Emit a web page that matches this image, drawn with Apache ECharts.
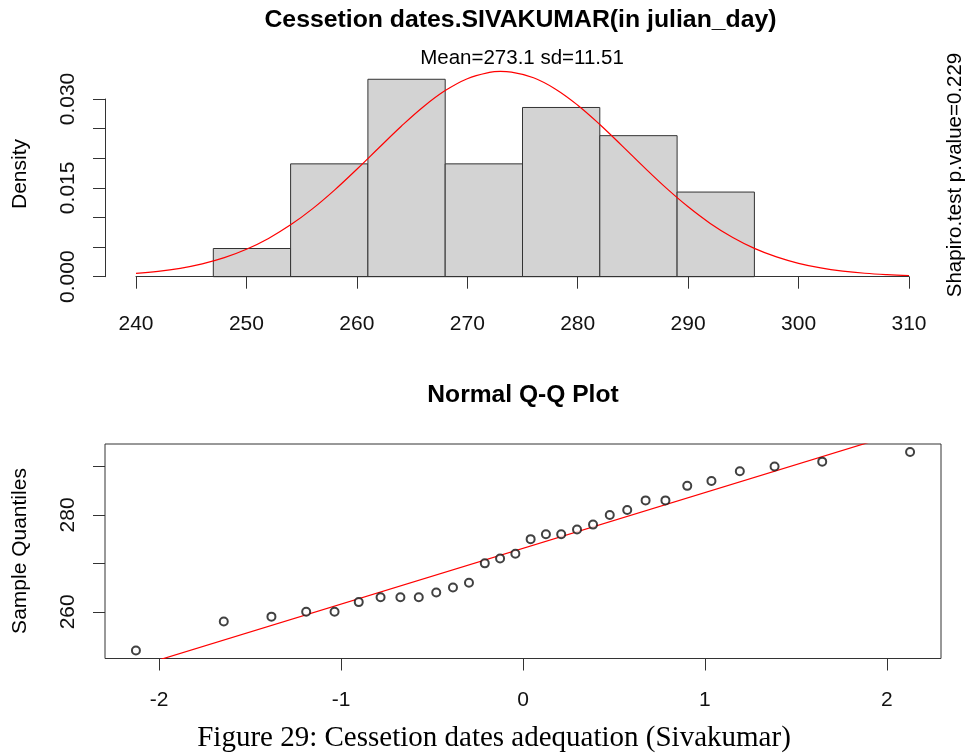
<!DOCTYPE html>
<html>
<head>
<meta charset="utf-8">
<script src="https://cdn.jsdelivr.net/npm/echarts@6/dist/echarts.min.js"></script>
<style>
html,body{margin:0;padding:0;background:#fff;}
#chart{width:966px;height:754px;}
</style>
</head>
<body>
<div id="chart"></div>
<script>
// ---- Histogram data ----
const histBinStart = [247, 254, 261, 268, 275, 282, 289];
const histBinEnd   = [254, 261, 268, 275, 282, 289, 296];
const histDensity  = [0.00476, 0.01905, 0.03333, 0.01905, 0.02857, 0.02381, 0.01429];

// ---- Fitted normal curve (Mean=273.1, sd=11.51) ----
const curveX = [240,242,244,246,248,250,252,254,256,258,260,262,264,266,268,270,272,273,274,276,278,280,282,284,286,288,290,292,294,296,298,300,302,304,306,308,310];
const curveY = [0.00056,0.00090,0.00142,0.00217,0.00321,0.00463,0.00646,0.00875,0.01149,0.01466,0.01814,0.02177,0.02536,0.02866,0.03142,0.03343,0.03450,0.03466,0.03455,0.03358,0.03166,0.02896,0.02570,0.02213,0.01849,0.01499,0.01180,0.00900,0.00667,0.00479,0.00334,0.00226,0.00148,0.00094,0.00058,0.00035,0.00020];

// ---- Q-Q plot data ----
const qqTheoretical = [-2.128,-1.645,-1.383,-1.192,-1.036,-0.903,-0.783,-0.674,-0.573,-0.477,-0.385,-0.297,-0.210,-0.126,-0.042,0.042,0.126,0.210,0.297,0.385,0.477,0.573,0.674,0.783,0.903,1.036,1.192,1.383,1.645,2.128];
const qqSample = [252,258,259,260,260,262,263,263,263,264,265,266,270,271,272,275,276,276,277,278,280,281,283,283,286,287,289,290,291,293];
const qqLineX = [-2.298, 2.298];
const qqLineY = [246.65, 299.55];

// ---- Tick labels ----
const histYLabels = ['0.000', '0.015', '0.030'];
const qqYLabels = ['260', '280'];

// ---- Texts ----
const mainTitle = 'Cessetion dates.SIVAKUMAR(in julian_day)';
const subTitle = 'Mean=273.1 sd=11.51';
const rightText = 'Shapiro.test p.value=0.229';
const histYName = 'Density';
const qqTitle = 'Normal Q-Q Plot';
const qqYName = 'Sample Quantiles';
const caption = 'Figure 29: Cessetion dates adequation (Sivakumar)';

const FONT = "'Liberation Sans', Arial, sans-serif";
const AX = '#333';

const chart = echarts.init(document.getElementById('chart'), null, {renderer: 'canvas'});

const barData = histBinStart.map((s, i) => [s, histBinEnd[i], histDensity[i]]);
const curveData = curveX.map((x, i) => [x, curveY[i]]);
const qqData = qqTheoretical.map((x, i) => [x, qqSample[i]]);
const qqLine = qqLineX.map((x, i) => [x, qqLineY[i]]);

function txt(text, x, y, size, opts) {
  opts = opts || {};
  return {
    type: 'text', x: x, y: y, rotation: opts.rot || 0, silent: true,
    style: {
      text: text,
      font: (opts.bold ? 'bold ' : '') + size + 'px ' + (opts.family || FONT),
      fill: '#000',
      textAlign: 'center', textVerticalAlign: 'middle',
      align: 'center', verticalAlign: 'middle'
    }
  };
}

const tickStyle = {show: true, length: 12, inside: false, lineStyle: {color: AX, width: 1}};
const labelBase = {fontFamily: FONT, fontSize: 21, color: '#111'};

const option = {
  animation: false,
  backgroundColor: '#fff',
  grid: [
    {left: 136, top: 99, width: 773, height: 177.7},
    {left: 105, top: 444, width: 836, height: 214.5, show: true, borderColor: AX, borderWidth: 1, backgroundColor: 'transparent'},
    {left: 159.2, top: 444, width: 727.6, height: 214.5},
    {left: 105, top: 466.5, width: 836, height: 145.3}
  ],
  xAxis: [
    {gridIndex: 0, type: 'value', min: 240, max: 310, interval: 10, offset: 8.3,
     axisLine: {show: true, lineStyle: {color: AX, width: 1}},
     axisTick: tickStyle, splitLine: {show: false},
     axisLabel: Object.assign({margin: 29}, labelBase)},
    {gridIndex: 1, type: 'value', min: -2.298, max: 2.298, show: false},
    {gridIndex: 2, type: 'value', min: -2, max: 2, interval: 1,
     axisLine: {show: false}, axisTick: tickStyle, splitLine: {show: false},
     axisLabel: Object.assign({margin: 31}, labelBase)},
    {gridIndex: 3, type: 'value', min: 0, max: 1, show: false}
  ],
  yAxis: [
    {gridIndex: 0, type: 'value', min: 0, max: 0.03, interval: 0.005, offset: 31,
     axisLine: {show: true, lineStyle: {color: AX, width: 1}},
     axisTick: tickStyle, splitLine: {show: false},
     axisLabel: Object.assign({margin: 26, rotate: 90,
       formatter: function (v) { const s = v.toFixed(3); return histYLabels.indexOf(s) >= 0 ? s : ''; }}, labelBase)},
    {gridIndex: 1, type: 'value', min: 250.36, max: 294.64, show: false},
    {gridIndex: 2, type: 'value', min: 0, max: 1, show: false},
    {gridIndex: 3, type: 'value', min: 260, max: 290, interval: 10,
     axisLine: {show: false}, axisTick: tickStyle, splitLine: {show: false},
     axisLabel: Object.assign({margin: 26, rotate: 90,
       formatter: function (v) { const s = String(Math.round(v)); return qqYLabels.indexOf(s) >= 0 ? s : ''; }}, labelBase)}
  ],
  series: [
    {
      type: 'custom', xAxisIndex: 0, yAxisIndex: 0, clip: false,
      data: barData,
      encode: {x: [0, 1], y: 2},
      renderItem: function (params, api) {
        const p0 = api.coord([api.value(0), 0]);
        const p1 = api.coord([api.value(1), api.value(2)]);
        return {
          type: 'rect',
          shape: {x: p0[0], y: p1[1], width: p1[0] - p0[0], height: p0[1] - p1[1]},
          style: {fill: '#D3D3D3', stroke: AX, lineWidth: 1}
        };
      },
      z: 2
    },
    {
      type: 'line', xAxisIndex: 0, yAxisIndex: 0, clip: false,
      data: curveData, smooth: 0.4, showSymbol: false, symbol: 'none',
      lineStyle: {color: '#ff0000', width: 1.2},
      z: 3,
      markLine: {
        silent: true, symbol: 'none', label: {show: false},
        lineStyle: {color: AX, width: 1, type: 'solid'},
        data: [{yAxis: 0}]
      }
    },
    {
      type: 'line', xAxisIndex: 1, yAxisIndex: 1, clip: true,
      data: qqLine, showSymbol: false, symbol: 'none',
      lineStyle: {color: '#ff0000', width: 1.2}, z: 3
    },
    {
      type: 'scatter', xAxisIndex: 1, yAxisIndex: 1,
      data: qqData, symbol: 'emptyCircle', symbolSize: 8,
      itemStyle: {color: '#111', borderColor: '#111', borderWidth: 1.1}, z: 4
    }
  ],
  graphic: [
    txt(mainTitle, 520.5, 20, 24.8, {bold: true}),
    txt(subTitle, 522, 58, 20.5),
    txt(histYName, 20, 174, 21, {rot: Math.PI / 2}),
    txt(rightText, 955, 175, 20.5, {rot: Math.PI / 2}),
    txt(qqTitle, 523, 395, 24.6, {bold: true}),
    txt(qqYName, 20, 551, 21, {rot: Math.PI / 2}),
    txt(caption, 494, 738, 29, {family: "'Liberation Serif', 'Times New Roman', serif"})
  ]
};

chart.setOption(option);
</script>
</body>
</html>
